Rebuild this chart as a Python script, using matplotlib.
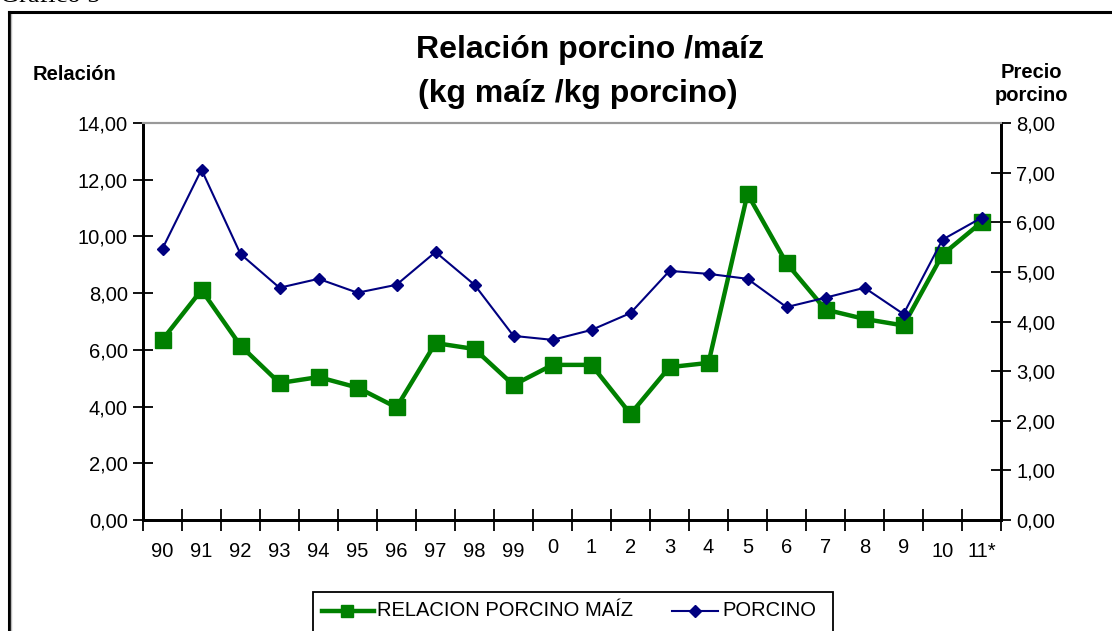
import matplotlib
matplotlib.use("Agg")
import matplotlib.pyplot as plt
import matplotlib.transforms as mtransforms
from matplotlib.lines import Line2D
from matplotlib.patches import Rectangle
import numpy as np

categories = ["90", "91", "92", "93", "94", "95", "96", "97", "98", "99",
              "0", "1", "2", "3", "4", "5", "6", "7", "8", "9", "10", "11*"]
relacion = [6.36, 8.11, 6.15, 4.83, 5.04, 4.67, 3.97, 6.24, 6.03, 4.76,
            5.47, 5.47, 3.74, 5.39, 5.54, 11.50, 9.06, 7.42, 7.09, 6.86, 9.36, 10.50]
porcino = [5.47, 7.06, 5.36, 4.68, 4.86, 4.58, 4.74, 5.40, 4.74, 3.71,
           3.63, 3.83, 4.17, 5.02, 4.96, 4.86, 4.29, 4.48, 4.68, 4.15, 5.65, 6.09]
left_ticks = [0, 2, 4, 6, 8, 10, 12, 14]
right_ticks = [0, 1, 2, 3, 4, 5, 6, 7, 8]

W, H = 1112, 631
fig = plt.figure(figsize=(W / 100, H / 100), dpi=100)
plt.rcParams['font.family'] = ['Liberation Sans', 'DejaVu Sans']

TICK_FS = 14.5
BOLD_FS = 14.5
TITLE_FS = 23

def fx(px):
    return px / W

def fy(py):
    return 1 - py / H

# outer border
fig.add_artist(Line2D([fx(9), fx(9)], [fy(12), 0], color="black", lw=2.2,
                      transform=fig.transFigure))
fig.add_artist(Line2D([fx(11), fx(11)], [fy(14), 0], color="#bbbbbb", lw=1.0,
                      transform=fig.transFigure))
fig.add_artist(Line2D([fx(9), 1], [fy(12), fy(12)], color="black", lw=2.2,
                      transform=fig.transFigure))
fig.text(fx(0), fy(-4), "Gráfico 5", family="Liberation Serif", fontsize=19,
         ha="left", va="center")

L, R, T, B = 143, 1001, 123, 520
ax = fig.add_axes([fx(L), fy(B), fx(R - L), (B - T) / H])
ax2 = ax.twinx()

x = np.arange(len(categories))
ax.plot(x, relacion, color="#008000", lw=3.2, marker="s", markersize=12,
        label="RELACION PORCINO MAÍZ", zorder=3)
ax2.plot(x, porcino, color="#000080", lw=1.5, marker="D", markersize=6.5,
         label="PORCINO", zorder=3)

ax.set_xlim(-0.5, len(categories) - 0.5)
ax.set_ylim(0, 14)
ax2.set_ylim(0, 8)

ax.set_yticks(left_ticks)
ax.set_yticklabels([f"{v:.2f}".replace(".", ",") for v in left_ticks], fontsize=TICK_FS)
ax2.set_yticks(right_ticks)
ax2.set_yticklabels([f"{v:.2f}".replace(".", ",") for v in right_ticks], fontsize=TICK_FS)

ax.set_xticks(x)
ax.set_xticklabels(categories, fontsize=TICK_FS)
ax.set_xticks(np.arange(-0.5, len(categories)), minor=True)
ax.tick_params(axis="x", which="major", length=0, pad=16)
ax.tick_params(axis="x", which="minor", length=16, direction="inout", width=1.3)
ax.tick_params(axis="y", length=14, direction="inout", width=1.3, pad=4)
ax2.tick_params(axis="y", length=14, direction="inout", width=1.3, pad=4)

# single-digit year labels sit slightly higher in the reference
for lbl in ax.get_xticklabels():
    if len(lbl.get_text()) == 1:
        lbl.set_transform(lbl.get_transform() +
                          mtransforms.ScaledTranslation(0, 4 / 100, fig.dpi_scale_trans))

for a in (ax, ax2):
    a.spines["top"].set_color("#999999")
    a.spines["top"].set_linewidth(1.5)
    a.spines["left"].set_linewidth(2)
    a.spines["bottom"].set_linewidth(2)
    a.spines["right"].set_linewidth(2)

fig.text(fx(590), fy(50), "Relación porcino /maíz", fontsize=TITLE_FS,
         fontweight="bold", ha="center", va="center")
fig.text(fx(578), fy(94), "(kg maíz /kg porcino)", fontsize=TITLE_FS,
         fontweight="bold", ha="center", va="center")
fig.text(fx(33), fy(75), "Relación", fontsize=BOLD_FS, fontweight="bold",
         ha="left", va="center")
fig.text(fx(1031), fy(84), "Precio\nporcino", fontsize=BOLD_FS, fontweight="bold",
         ha="center", va="center", linespacing=1.25)

# legend
fig.add_artist(Rectangle((fx(313), fy(640)), fx(833 - 313), (640 - 592) / H,
                         transform=fig.transFigure, fill=False, ec="black", lw=1.3))
fig.add_artist(Line2D([fx(322), fx(374)], [fy(611), fy(611)], color="#008000", lw=3.2,
                      transform=fig.transFigure))
fig.add_artist(Line2D([fx(347)], [fy(611)], color="#008000", marker="s", markersize=9,
                      transform=fig.transFigure))
fig.text(fx(377), fy(611), "RELACION PORCINO MAÍZ", fontsize=TICK_FS, ha="left", va="center")
fig.add_artist(Line2D([fx(672), fx(718)], [fy(611), fy(611)], color="#000080", lw=1.5,
                      transform=fig.transFigure))
fig.add_artist(Line2D([fx(695)], [fy(611)], color="#000080", marker="D", markersize=6,
                      transform=fig.transFigure))
fig.text(fx(722), fy(611), "PORCINO", fontsize=TICK_FS, ha="left", va="center")

fig.savefig("out.png", dpi=100, facecolor="white")
